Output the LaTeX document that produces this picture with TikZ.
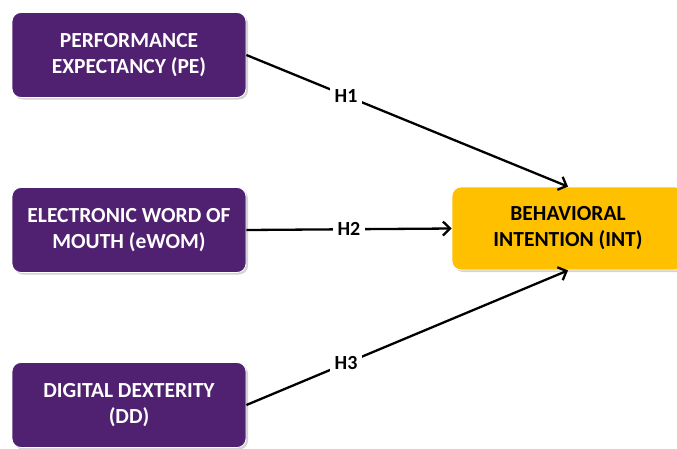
\documentclass[tikz,border=0pt]{standalone}
\usepackage{fontspec}
\setmainfont{Carlito}
\usetikzlibrary{arrows.meta,shadows}
\definecolor{purp}{HTML}{502170}
\definecolor{gold}{HTML}{FFC000}
\begin{document}
\begin{tikzpicture}[x=1pt,y=-1pt,
  box/.style={rounded corners=9pt, minimum width=234pt, minimum height=85pt,
    align=center, font=\bfseries\fontsize{21.5}{26}\selectfont,
    draw=white, line width=0.8pt,
    drop shadow={shadow xshift=2pt, shadow yshift=-2pt, opacity=0.35, fill=gray}},
  cause/.style={box, fill=purp, text=white},
  effect/.style={box, fill=gold, text=black, minimum width=232pt, minimum height=83pt},
  conn/.style={line width=2.3pt, -{Straight Barb[length=7pt,width=14pt,line width=2.3pt]}},
  hlab/.style={fill=white, font=\bfseries\fontsize{20}{22}\selectfont, inner sep=5pt, text=black}]
\useasboundingbox (0,0) rectangle (677,448);
\node[cause] (PE) at (129,55) {PERFORMANCE\\EXPECTANCY (PE)};
\node[cause] (EW) at (129,230) {ELECTRONIC WORD OF\\MOUTH (eWOM)};
\node[cause] (DD) at (129,405) {DIGITAL DEXTERITY\\(DD)};
\node[effect] (INT) at (568,228.5) {BEHAVIORAL\\INTENTION (INT)};
\draw[conn] (PE.east) -- node[hlab, pos=0.31] {H1} (INT.north);
\draw[conn] (EW.east) -- node[hlab, pos=0.5] {H2} (INT.west);
\draw[conn] (DD.east) -- node[hlab, pos=0.31] {H3} (INT.south);
\end{tikzpicture}
\end{document}
